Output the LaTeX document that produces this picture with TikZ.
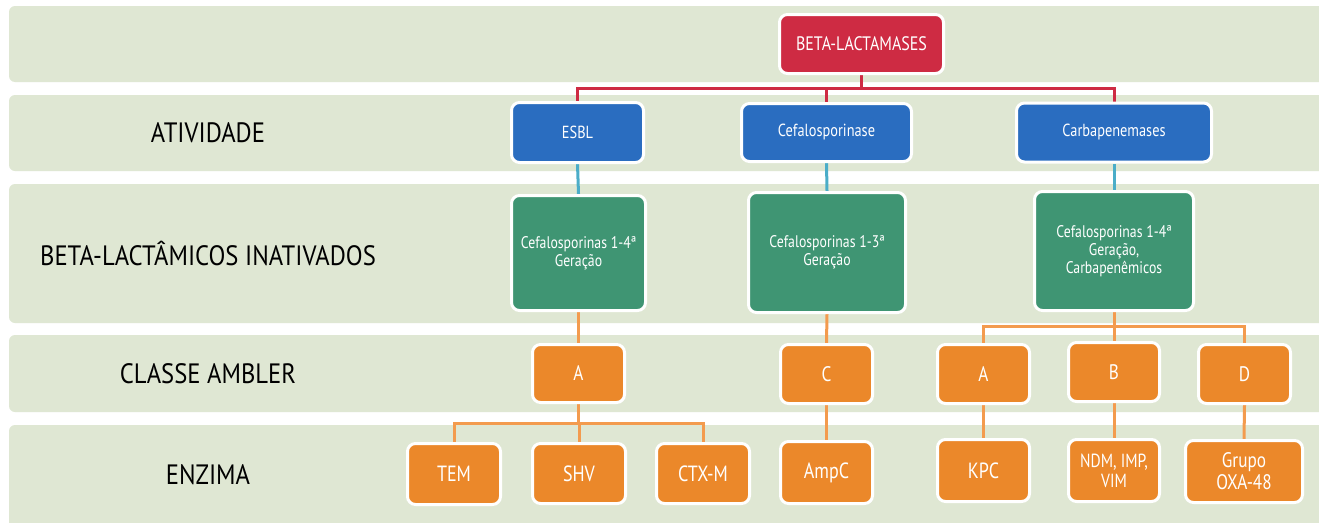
\documentclass[tikz,border=0pt]{standalone}
\usepackage{fontspec}
\setmainfont{PT Sans}[FakeStretch=0.82]
\newfontfamily\lblfont{PT Sans}[FakeStretch=0.88]
\pgfdeclarelayer{bands}
\pgfdeclarelayer{links}
\pgfsetlayers{bands,links,main}
\definecolor{bandc}{HTML}{DFE7D3}
\definecolor{redc}{HTML}{CE2B43}
\definecolor{bluec}{HTML}{2A6DC0}
\definecolor{greenc}{HTML}{3F9573}
\definecolor{orangec}{HTML}{EB882A}
\definecolor{lorange}{HTML}{F39B4E}
\definecolor{lblue}{HTML}{4BADC8}
\tikzset{
  box/.style={draw=white, line width=3pt, rounded corners=8pt, text=white, align=center, inner sep=2pt},
  rbox/.style={box, fill=redc, font=\fontsize{19.5}{22}\selectfont},
  bbox/.style={box, fill=bluec, font=\fontsize{17.5}{19}\selectfont},
  gbox/.style={box, fill=greenc, font=\fontsize{16.8}{18}\selectfont},
  obox/.style={box, fill=orangec, font=\fontsize{21}{22}\selectfont},
  ebox/.style={box, fill=orangec, font=\fontsize{22}{22}\selectfont},
  band/.style={fill=bandc, rounded corners=6pt},
  lbl/.style={font=\lblfont\fontsize{28}{30}\selectfont, text=black},
  redl/.style={draw=redc, line width=3pt},
  bluel/.style={draw=lblue, line width=3pt},
  orl/.style={draw=lorange, line width=3pt},
}
\begin{document}
\begin{tikzpicture}[x=1pt, y=-1pt]
\useasboundingbox (0,0) rectangle (1319,522);
\clip (0,0) rectangle (1319,522);
\begin{pgfonlayer}{bands}
\fill[white] (0,0) rectangle (1319,522);
\path[band] (9,6) rectangle (1335,82);
\path[band] (9,95) rectangle (1335,171);
\path[band] (9,184) rectangle (1335,323);
\path[band] (9,335) rectangle (1335,412);
\path[band] (9,425) rectangle (1335,530);
\end{pgfonlayer}

\node[lbl] (l1) at (208,133) {ATIVIDADE};
\node[lbl] (l2) at (208,253) {BETA-LACTÂMICOS INATIVADOS};
\node[lbl] (l3) at (208,374) {CLASSE AMBLER};
\node[lbl] (l4) at (208,475) {ENZIMA};

\node[rbox, minimum width=164, minimum height=59] (root) at (861.5,44) {BETA-LACTAMASES};

\node[bbox, minimum width=132, minimum height=60] (esbl) at (577.5,132.5) {ESBL};
\node[bbox, minimum width=170, minimum height=58] (cef) at (826.5,132.5) {Cefalosporinase};
\node[bbox, minimum width=195, minimum height=59] (carb) at (1114,132.5) {Carbapenemases};

\node[gbox, minimum width=134, minimum height=115] (g1) at (578.5,253) {Cefalosporinas 1-4ª\\Geração};
\node[gbox, minimum width=157, minimum height=120] (g2) at (827,252.5) {Cefalosporinas 1-3ª\\Geração};
\node[gbox, minimum width=159, minimum height=119] (g3) at (1114,251) {Cefalosporinas 1-4ª\\Geração,\\Carbapenêmicos};

\node[obox, minimum width=92, minimum height=58] (cA) at (578.5,373.5) {A};
\node[obox, minimum width=92, minimum height=59] (cC) at (826.5,374) {C};
\node[obox, minimum width=92, minimum height=59] (cA2) at (983.5,374) {A};
\node[obox, minimum width=91, minimum height=59] (cB) at (1114,372) {B};
\node[obox, minimum width=92, minimum height=59] (cD) at (1244.5,374) {D};

\node[ebox, minimum width=93, minimum height=61] (tem) at (454,474) {TEM};
\node[ebox, minimum width=93, minimum height=60] (shv) at (579,473.5) {SHV};
\node[ebox, minimum width=93, minimum height=60] (ctx) at (703,473.5) {CTX-M};
\node[ebox, minimum width=92, minimum height=62] (ampc) at (826.5,472.5) {AmpC};
\node[ebox, minimum width=92, minimum height=62] (kpc) at (983.5,470.5) {KPC};
\node[box, fill=orangec, font=\fontsize{19}{20}\selectfont, minimum width=91, minimum height=62] (ndm) at (1114,470.5) {NDM, IMP,\\VIM};
\node[ebox, font=\fontsize{21}{22}\selectfont, minimum width=117, minimum height=62] (oxa) at (1244,471.5) {Grupo\\OXA-48};

\coordinate (bus1) at (0,88);
\coordinate (bus2) at (0,326);
\coordinate (bus3) at (0,423);

\begin{pgfonlayer}{links}
\draw[redl] (root.south) -- (root.south |- bus1) -| (esbl.north);
\draw[redl] (root.south) -- (root.south |- bus1) -| (cef.north);
\draw[redl] (root.south) -- (root.south |- bus1) -| (carb.north);
\draw[bluel] (esbl.south) -- (g1.north);
\draw[bluel] (cef.south) -- (g2.north);
\draw[bluel] (carb.south) -- (g3.north);
\draw[orl] (g1.south) -- (cA.north);
\draw[orl] (g2.south) -- (cC.north);
\draw[orl] (g3.south) -- (g3.south |- bus2) -| (cA2.north);
\draw[orl] (g3.south) -- (g3.south |- bus2) -| (cB.north);
\draw[orl] (g3.south) -- (g3.south |- bus2) -| (cD.north);
\draw[orl] (cA.south) -- (cA.south |- bus3) -| (tem.north);
\draw[orl] (cA.south) -- (cA.south |- bus3) -| (shv.north);
\draw[orl] (cA.south) -- (cA.south |- bus3) -| (ctx.north);
\draw[orl] (cC.south) -- (ampc.north);
\draw[orl] (cA2.south) -- (kpc.north);
\draw[orl] (cB.south) -- (ndm.north);
\draw[orl] (cD.south) -- (oxa.north);
\end{pgfonlayer}
\end{tikzpicture}
\end{document}
